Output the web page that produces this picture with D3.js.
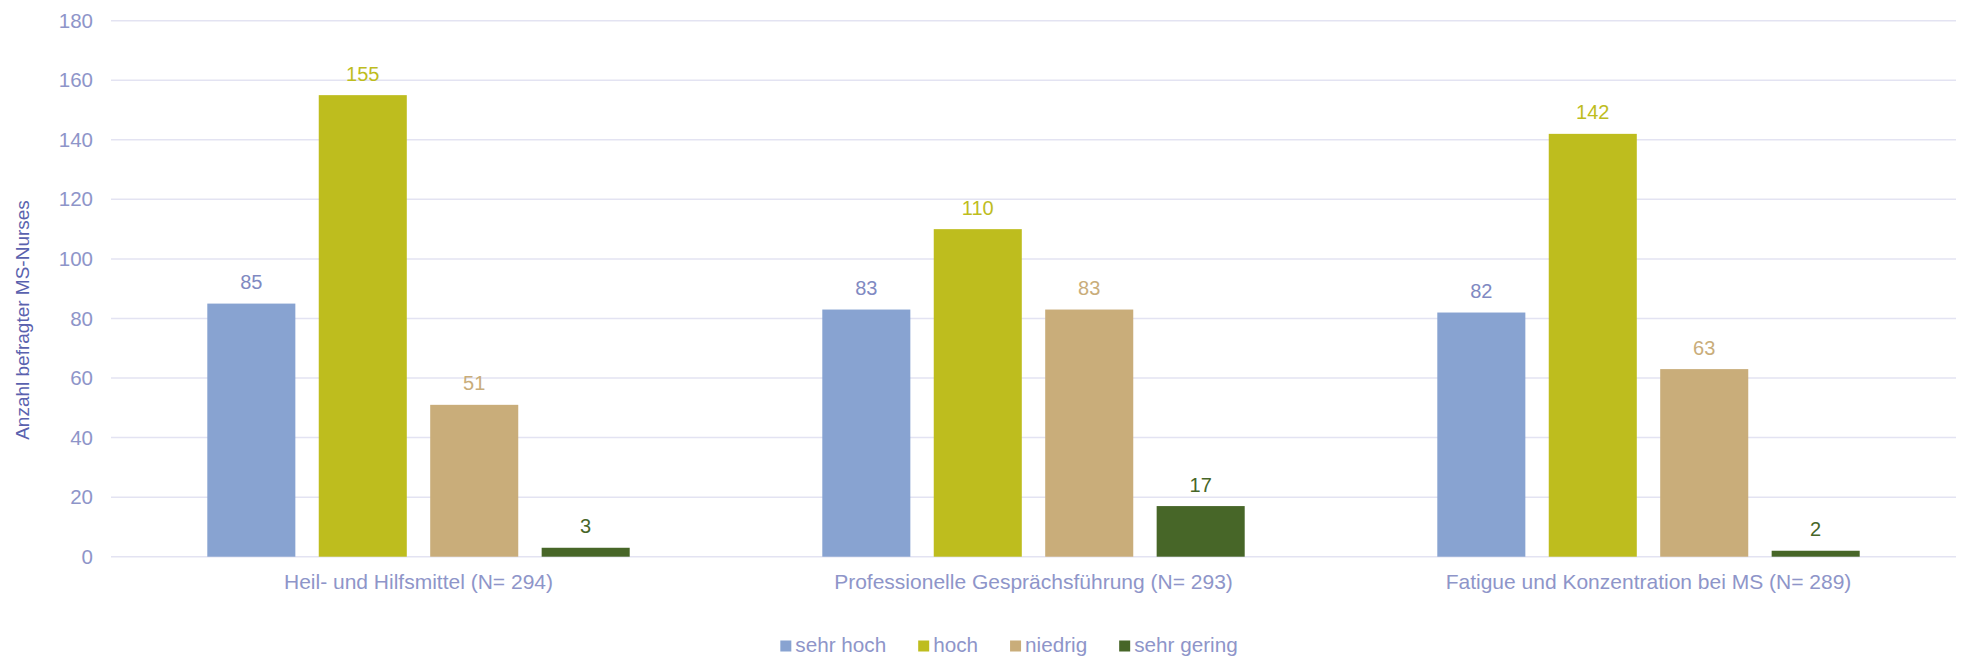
<!DOCTYPE html>
<html>
<head>
<meta charset="utf-8">
<script src="https://cdn.jsdelivr.net/npm/d3@7"></script>
<style>
	body { margin: 0; background: #fff; }
	text { font-family: "Liberation Sans", Arial, sans-serif; }
</style>
</head>
<body>
<svg id="chart" width="1966" height="659"></svg>
<script>
const categories = ["Heil- und Hilfsmittel (N= 294)", "Professionelle Gesprächsführung (N= 293)", "Fatigue und Konzentration bei MS (N= 289)"];
const seriesNames = ["sehr hoch", "hoch", "niedrig", "sehr gering"];
const sehrHoch = [85, 83, 82];
const hoch = [155, 110, 142];
const niedrig = [51, 83, 63];
const sehrGering = [3, 17, 2];
const yTicks = [0, 20, 40, 60, 80, 100, 120, 140, 160, 180];

const BAR_COLORS = ["#88a3d1", "#bebd1e", "#c9ad7a", "#476628"];
const LABEL_COLORS = ["#7f89c2", "#bebd1e", "#c9ad7a", "#476628"];
const TICK_COLOR = "#8e95c9";
const GRID_COLOR = "#e3e3f2";

const MARGIN_LEFT = 111;
const MARGIN_RIGHT = 10;
const Y_TOP = 20.7;
const Y_BOT = 556.7;

var svg = d3.select("#chart");
var width = +svg.attr("width");

var seriesData = [sehrHoch, hoch, niedrig, sehrGering];

// scales
var x0 = d3.scaleBand().domain(categories).range([MARGIN_LEFT, width - MARGIN_RIGHT]).padding(0);
var x1 = d3.scaleBand().domain(seriesNames).range([0, x0.bandwidth()])
	.paddingInner(0.21).paddingOuter(0.864);
var y = d3.scaleLinear().domain([0, 180]).range([Y_BOT, Y_TOP]);

// gridlines
svg.append("g").selectAll("line")
	.data(yTicks)
  .enter().append("line")
	.attr("x1", MARGIN_LEFT)
	.attr("x2", width - MARGIN_RIGHT)
	.attr("y1", d => y(d))
	.attr("y2", d => y(d))
	.attr("stroke", GRID_COLOR)
	.attr("stroke-width", 1.5);

// y tick labels
var yAxis = d3.axisLeft(y).tickValues(yTicks).tickSize(0).tickPadding(18);
var yg = svg.append("g")
	.attr("transform", "translate(" + MARGIN_LEFT + ",0)")
	.call(yAxis);
yg.select(".domain").remove();
yg.selectAll("text")
	.attr("fill", TICK_COLOR)
	.attr("font-size", "20.5px")
	.attr("font-family", "'Liberation Sans', Arial, sans-serif");

// y axis title
svg.append("text")
	.attr("transform", "translate(22,320) rotate(-90)")
	.attr("dy", "0.35em")
	.attr("text-anchor", "middle")
	.attr("font-size", "19px")
	.attr("fill", "#5a62ae")
	.text("Anzahl befragter MS-Nurses");

// bars
seriesNames.forEach(function(name, si) {
	var g = svg.append("g").attr("class", "series");
	g.selectAll("rect")
		.data(seriesData[si])
	  .enter().append("rect")
		.attr("x", (d, i) => x0(categories[i]) + x1(name))
		.attr("y", d => y(d))
		.attr("width", x1.bandwidth())
		.attr("height", d => y(0) - y(d))
		.attr("fill", BAR_COLORS[si]);

	g.selectAll("text")
		.data(seriesData[si])
	  .enter().append("text")
		.attr("x", (d, i) => x0(categories[i]) + x1(name) + x1.bandwidth() / 2)
		.attr("y", d => y(d) - 14.5)
		.attr("text-anchor", "middle")
		.attr("font-size", "20px")
		.attr("fill", LABEL_COLORS[si])
		.text(d => d);
});

// category labels
svg.append("g").selectAll("text")
	.data(categories)
  .enter().append("text")
	.attr("x", d => x0(d) + x0.bandwidth() / 2)
	.attr("y", 589)
	.attr("text-anchor", "middle")
	.attr("font-size", "21px")
	.attr("fill", TICK_COLOR)
	.text(d => d);

// legend
var legend = svg.append("g");
var lx = 0;
var items = [];
seriesNames.forEach(function(name, i) {
	var it = legend.append("g");
	it.append("rect")
		.attr("x", 0).attr("y", 640.5)
		.attr("width", 11).attr("height", 11)
		.attr("fill", BAR_COLORS[i]);
	var t = it.append("text")
		.attr("x", 15).attr("y", 652)
		.attr("font-size", "20.7px")
		.attr("fill", TICK_COLOR)
		.text(name);
	items.push([it, 15 + t.node().getComputedTextLength()]);
});
var gap = 32;
var total = d3.sum(items, d => d[1]) + gap * (items.length - 1);
lx = 1009 - total / 2;
items.forEach(function(d) {
	d[0].attr("transform", "translate(" + lx + ",0)");
	lx += d[1] + gap;
});
</script>
</body>
</html>
